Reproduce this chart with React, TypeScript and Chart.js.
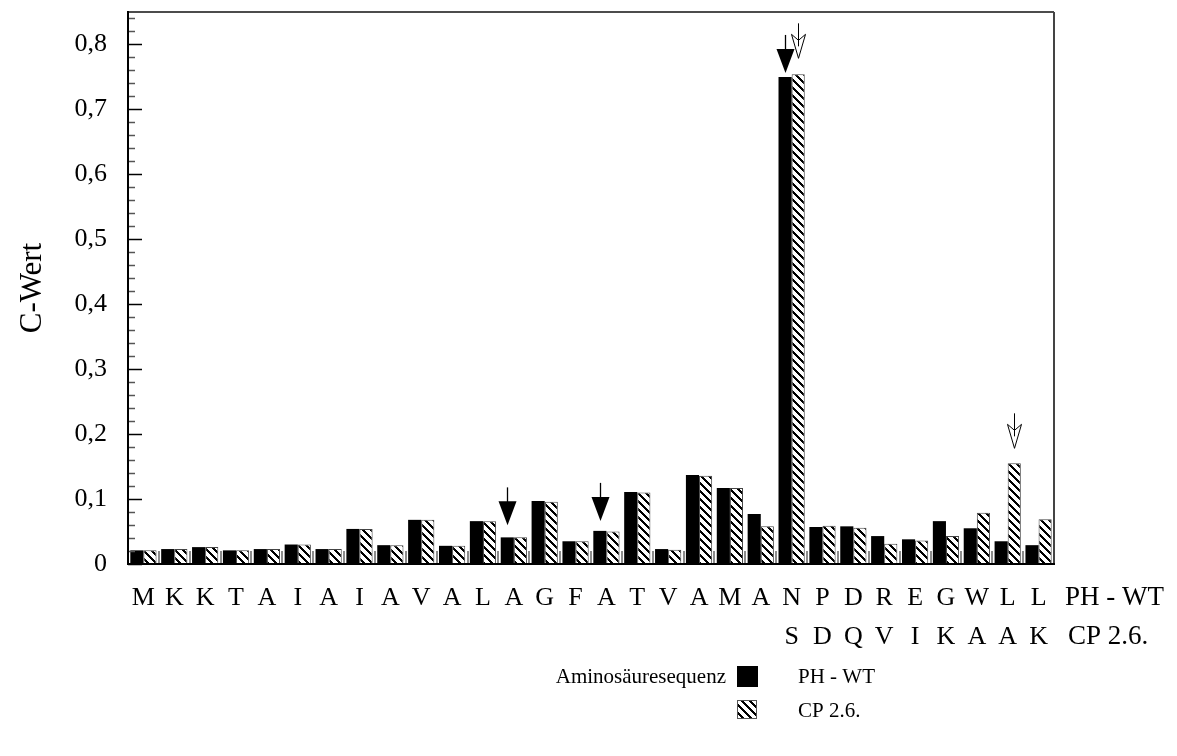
import React, { useEffect, useRef } from 'react';
import { Chart, registerables } from 'chart.js';

Chart.register(...registerables);

// ---------- data ----------
const categories = ['M', 'K', 'K', 'T', 'A', 'I', 'A', 'I', 'A', 'V', 'A', 'L', 'A', 'G', 'F', 'A', 'T', 'V', 'A', 'M', 'A', 'N', 'P', 'D', 'R', 'E', 'G', 'W', 'L', 'L'];
const secondRow = ['', '', '', '', '', '', '', '', '', '', '', '', '', '', '', '', '', '', '', '', '', 'S', 'D', 'Q', 'V', 'I', 'K', 'A', 'A', 'K'];
const seriesNames = ['PH - WT', 'CP 2.6.'];
const phWT = [0.021, 0.023, 0.026, 0.021, 0.023, 0.030, 0.023, 0.054, 0.029, 0.068, 0.028, 0.066, 0.041, 0.097, 0.035, 0.051, 0.111, 0.023, 0.137, 0.117, 0.077, 0.750, 0.057, 0.058, 0.043, 0.038, 0.066, 0.055, 0.035, 0.029];
const cp26 = [0.021, 0.023, 0.026, 0.021, 0.023, 0.030, 0.023, 0.054, 0.029, 0.068, 0.028, 0.066, 0.041, 0.096, 0.035, 0.050, 0.110, 0.022, 0.136, 0.117, 0.058, 0.754, 0.059, 0.056, 0.031, 0.036, 0.043, 0.079, 0.155, 0.069];
const yMax = 0.85;
const yStep = 0.1;
const yMinorStep = 0.02;
const yTitle = 'C-Wert';
const legendTitle = 'Aminosäuresequenz';
// arrows: category index, series index, filled?, gap above bar (px)
const arrowIndex = [12, 15, 21, 21, 28];
const arrowSeries = [0, 0, 0, 1, 1];
const arrowFilled = [true, true, true, false, false];
const arrowGap = [12, 10, 4, 16, 15];

const FONT = "'Liberation Serif', 'Times New Roman', serif";

function makeHatch(ctx: CanvasRenderingContext2D): CanvasPattern | string {
  const c = document.createElement('canvas');
  c.width = 8;
  c.height = 8;
  const g = c.getContext('2d');
  if (!g) return '#888';
  g.fillStyle = '#fff';
  g.fillRect(0, 0, 8, 8);
  g.fillStyle = '#000';
  for (let y = 0; y < 8; y++) {
    for (let x = 0; x < 8; x++) {
      if ((((x - y) % 8) + 8) % 8 < 3) g.fillRect(x, y, 1, 1);
    }
  }
  return ctx.createPattern(c, 'repeat') || '#888';
}

const decoPlugin = {
  id: 'deco',
  afterDatasetsDraw(chart: any) {
    const { ctx, chartArea } = chart;
    const { left, right, top, bottom } = chartArea;
    const x = chart.scales.x;
    const y = chart.scales.y;
    ctx.save();

    // category boundary ticks
    ctx.strokeStyle = '#8c8c8c';
    ctx.lineWidth = 2;
    for (let i = 1; i < categories.length; i++) {
      const px = Math.round((x.getPixelForTick(i - 1) + x.getPixelForTick(i)) / 2);
      ctx.beginPath();
      ctx.moveTo(px, bottom);
      ctx.lineTo(px, bottom - 13);
      ctx.stroke();
    }

    // y ticks (inside)
    const nMinor = Math.floor(yMax / yMinorStep + 1e-9);
    const perMajor = Math.round(yStep / yMinorStep);
    for (let k = 0; k <= nMinor; k++) {
      const py = Math.round(y.getPixelForValue(k * yMinorStep)) + 0.5;
      const major = k % perMajor === 0;
      ctx.strokeStyle = major ? '#000' : '#555';
      ctx.lineWidth = 1.5;
      ctx.beginPath();
      ctx.moveTo(left, py);
      ctx.lineTo(left + (major ? 14 : 7), py);
      ctx.stroke();
    }

    // frame
    ctx.strokeStyle = '#111';
    ctx.lineWidth = 1.5;
    ctx.beginPath();
    ctx.moveTo(left, top);
    ctx.lineTo(right, top);
    ctx.stroke();
    ctx.strokeStyle = '#444';
    ctx.lineWidth = 2;
    ctx.beginPath();
    ctx.moveTo(right, top);
    ctx.lineTo(right, bottom);
    ctx.stroke();
    ctx.strokeStyle = '#000';
    ctx.lineWidth = 2;
    ctx.beginPath();
    ctx.moveTo(left, top - 1);
    ctx.lineTo(left, bottom);
    ctx.lineTo(right + 1, bottom);
    ctx.stroke();

    // arrows
    for (let a = 0; a < arrowIndex.length; a++) {
      const meta = chart.getDatasetMeta(arrowSeries[a]);
      const bar = meta.data[arrowIndex[a]];
      const bx = Math.round(bar.x) + 0.5;
      const tip = bar.y - arrowGap[a];
      const headH = 24;
      if (arrowFilled[a]) {
        ctx.strokeStyle = '#000';
        ctx.lineWidth = 1.3;
        ctx.beginPath();
        ctx.moveTo(bx, tip - headH - 14);
        ctx.lineTo(bx, tip - headH + 2);
        ctx.stroke();
        ctx.fillStyle = '#000';
        ctx.beginPath();
        ctx.moveTo(bx - 9, tip - headH);
        ctx.lineTo(bx + 9, tip - headH);
        ctx.lineTo(bx, tip);
        ctx.closePath();
        ctx.fill();
      } else {
        ctx.fillStyle = '#fff';
        ctx.strokeStyle = '#000';
        ctx.lineWidth = 1;
        ctx.beginPath();
        ctx.moveTo(bx - 7, tip - headH);
        ctx.lineTo(bx, tip - headH + 6);
        ctx.lineTo(bx + 7, tip - headH);
        ctx.lineTo(bx, tip);
        ctx.closePath();
        ctx.fill();
        ctx.stroke();
        ctx.beginPath();
        ctx.moveTo(bx, tip - headH - 11);
        ctx.lineTo(bx, tip - headH + 12);
        ctx.stroke();
      }
    }

    // series row labels to the right of the x axis
    ctx.fillStyle = '#000';
    ctx.font = `27px ${FONT}`;
    ctx.textAlign = 'left';
    ctx.textBaseline = 'middle';
    ctx.fillText(seriesNames[0], 1065, 598);
    ctx.fillText(seriesNames[1], 1068, 637);

    // legend
    const ds = chart.data.datasets;
    ctx.font = `21px ${FONT}`;
    ctx.textAlign = 'right';
    ctx.fillText(legendTitle, 726, 677);
    ctx.textAlign = 'left';
    ctx.fillStyle = ds[0].backgroundColor;
    ctx.fillRect(737, 666, 21, 21);
    ctx.fillStyle = ds[1].backgroundColor;
    ctx.fillRect(737, 700, 20, 19);
    ctx.strokeStyle = '#555';
    ctx.lineWidth = 1;
    ctx.strokeRect(737.5, 700.5, 19, 18);
    ctx.fillStyle = '#000';
    ctx.fillText(ds[0].label, 798, 677);
    ctx.fillText(ds[1].label, 798, 711);

    ctx.restore();
  },
};

export default function App() {
  const canvasRef = useRef<HTMLCanvasElement | null>(null);

  useEffect(() => {
    const canvas = canvasRef.current;
    if (!canvas) return;
    const ctx = canvas.getContext('2d');
    if (!ctx) return;
    const hatch = makeHatch(ctx);
    const labels = categories.map((c, i) => (secondRow[i] ? [c, secondRow[i]] : c));

    const zeroPad = (s: any) => {
      s.paddingTop = 0;
      s.paddingBottom = 0;
      s.paddingLeft = 0;
      s.paddingRight = 0;
    };

    const chart = new Chart(canvas, {
      type: 'bar',
      data: {
        labels,
        datasets: [
          {
            label: seriesNames[0],
            data: phWT,
            backgroundColor: '#000',
            borderWidth: 0,
            categoryPercentage: 0.85,
            barPercentage: 1.0,
          },
          {
            label: seriesNames[1],
            data: cp26,
            backgroundColor: hatch as any,
            borderColor: '#444',
            borderWidth: 1,
            categoryPercentage: 0.85,
            barPercentage: 1.0,
          },
        ],
      },
      options: {
        responsive: false,
        animation: false,
        devicePixelRatio: 1,
        layout: { padding: { left: 0, top: 12, right: 123, bottom: 0 } },
        plugins: {
          legend: { display: false },
          tooltip: { enabled: false },
        },
        scales: {
          x: {
            grid: { display: false, drawTicks: false },
            border: { display: false },
            ticks: {
              autoSkip: false,
              maxRotation: 0,
              minRotation: 0,
              color: '#000',
              padding: 15,
              font: { family: FONT, size: 26, lineHeight: 1.5 },
            },
            afterFit: (s: any) => {
              s.height = 192;
              zeroPad(s);
            },
          },
          y: {
            min: 0,
            max: yMax,
            grid: { display: false, drawTicks: false },
            border: { display: false },
            ticks: {
              stepSize: yStep,
              color: '#000',
              padding: 21,
              font: { family: FONT, size: 26 },
              callback: (v: any) => (Number(v) === 0 ? '0' : Number(v).toFixed(1).replace('.', ',')),
            },
            afterBuildTicks: (s: any) => {
              s.ticks = s.ticks.filter((t: any) => Math.abs(t.value / yStep - Math.round(t.value / yStep)) < 1e-6);
            },
            title: {
              display: true,
              text: yTitle,
              color: '#000',
              font: { family: FONT, size: 31 },
              padding: { top: 14, bottom: 0 },
            },
            afterFit: (s: any) => {
              s.width = 128;
              zeroPad(s);
            },
          },
        },
      },
      plugins: [decoPlugin],
    });

    return () => {
      chart.destroy();
    };
  }, []);

  return (
    <div style={{ position: 'absolute', left: 0, top: 0, width: 1177, height: 756, background: '#fff' }}>
      <canvas ref={canvasRef} width={1177} height={756} style={{ display: 'block' }} />
    </div>
  );
}
